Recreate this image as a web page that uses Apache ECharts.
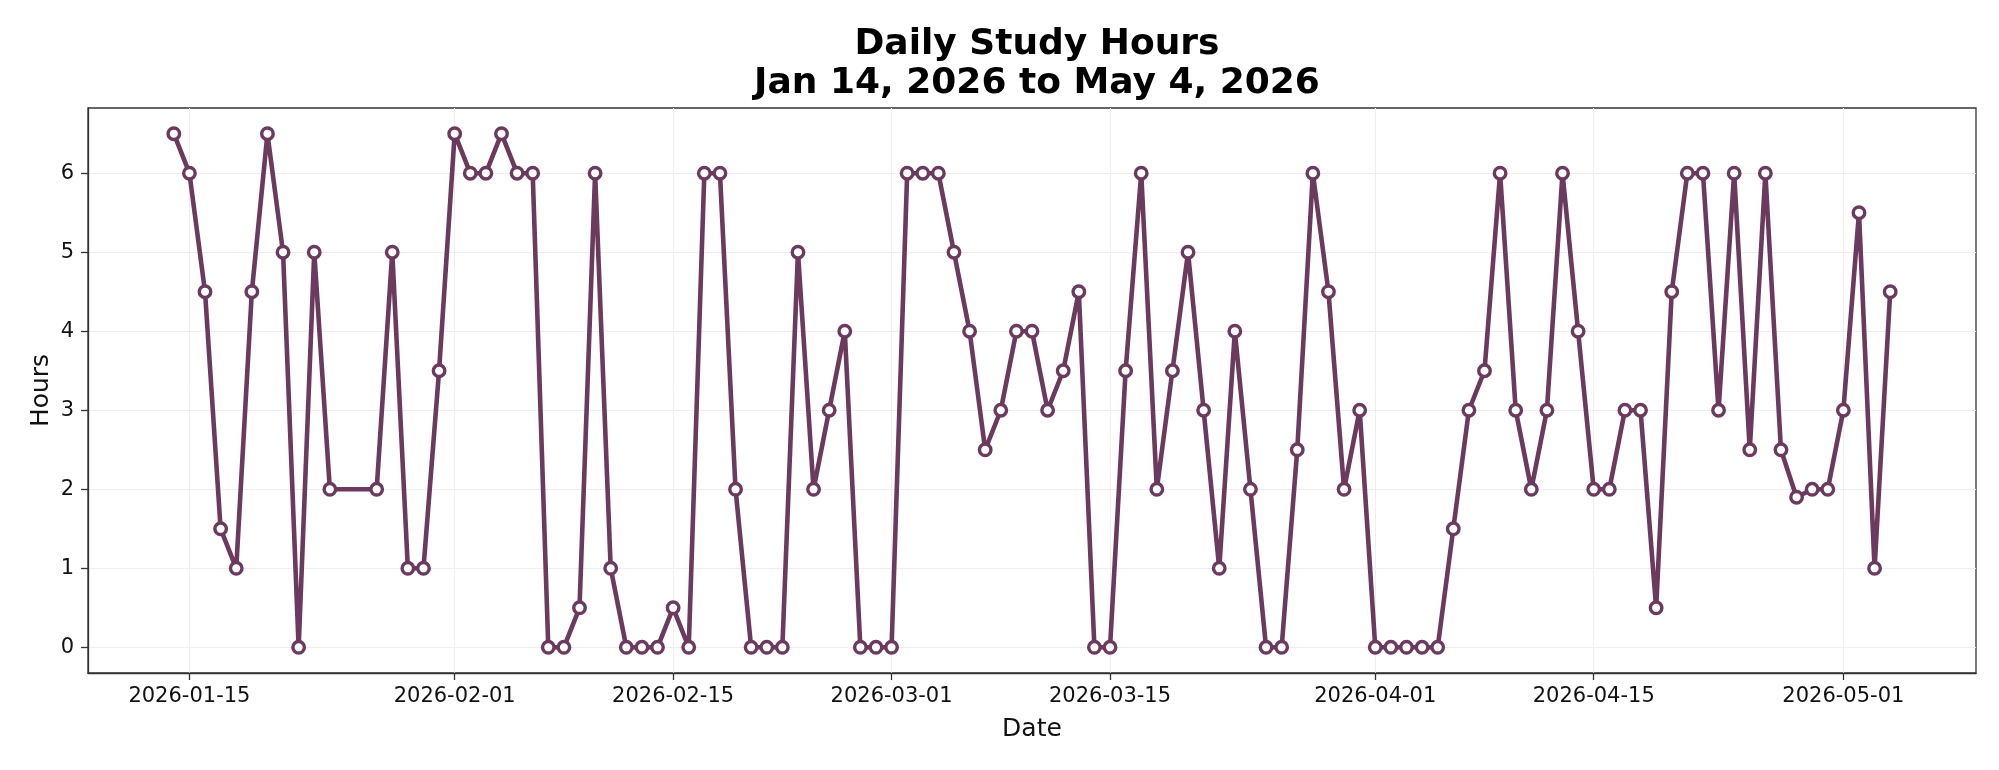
<!DOCTYPE html>
<html lang="en">
<head>
    <meta charset="UTF-8">
    <title>Daily Study Hours</title>
    <script type="text/javascript" src="https://cdn.jsdelivr.net/npm/echarts@6/dist/echarts.min.js"></script>
    <style>
        html, body { margin: 0; padding: 0; background: #fff; }
        #main { width: 1999px; height: 770px; }
    </style>
</head>
<body>

<div id="main"></div>

<script type="text/javascript">
    // dates with a reading (Jan 25 and Jan 26 have none)
    var dates = [
        "2026-01-14","2026-01-15","2026-01-16","2026-01-17","2026-01-18","2026-01-19","2026-01-20",
        "2026-01-21","2026-01-22","2026-01-23","2026-01-24","2026-01-27","2026-01-28","2026-01-29",
        "2026-01-30","2026-01-31","2026-02-01","2026-02-02","2026-02-03","2026-02-04","2026-02-05",
        "2026-02-06","2026-02-07","2026-02-08","2026-02-09","2026-02-10","2026-02-11","2026-02-12",
        "2026-02-13","2026-02-14","2026-02-15","2026-02-16","2026-02-17","2026-02-18","2026-02-19",
        "2026-02-20","2026-02-21","2026-02-22","2026-02-23","2026-02-24","2026-02-25","2026-02-26",
        "2026-02-27","2026-02-28","2026-03-01","2026-03-02","2026-03-03","2026-03-04","2026-03-05",
        "2026-03-06","2026-03-07","2026-03-08","2026-03-09","2026-03-10","2026-03-11","2026-03-12",
        "2026-03-13","2026-03-14","2026-03-15","2026-03-16","2026-03-17","2026-03-18","2026-03-19",
        "2026-03-20","2026-03-21","2026-03-22","2026-03-23","2026-03-24","2026-03-25","2026-03-26",
        "2026-03-27","2026-03-28","2026-03-29","2026-03-30","2026-03-31","2026-04-01","2026-04-02",
        "2026-04-03","2026-04-04","2026-04-05","2026-04-06","2026-04-07","2026-04-08","2026-04-09",
        "2026-04-10","2026-04-11","2026-04-12","2026-04-13","2026-04-14","2026-04-15","2026-04-16",
        "2026-04-17","2026-04-18","2026-04-19","2026-04-20","2026-04-21","2026-04-22","2026-04-23",
        "2026-04-24","2026-04-25","2026-04-26","2026-04-27","2026-04-28","2026-04-29","2026-04-30",
        "2026-05-01","2026-05-02","2026-05-03","2026-05-04"
    ];
    var hours = [
        6.5, 6, 4.5, 1.5, 1, 4.5, 6.5,
        5, 0, 5, 2, 2, 5, 1,
        1, 3.5, 6.5, 6, 6, 6.5, 6,
        6, 0, 0, 0.5, 6, 1, 0,
        0, 0, 0.5, 0, 6, 6, 2,
        0, 0, 0, 5, 2, 3, 4,
        0, 0, 0, 6, 6, 6, 5,
        4, 2.5, 3, 4, 4, 3, 3.5,
        4.5, 0, 0, 3.5, 6, 2, 3.5,
        5, 3, 1, 4, 2, 0, 0,
        2.5, 6, 4.5, 2, 3, 0, 0,
        0, 0, 0, 1.5, 3, 3.5, 6,
        3, 2, 3, 6, 4, 2, 2,
        3, 3, 0.5, 4.5, 6, 6, 3,
        6, 2.5, 6, 2.5, 1.9, 2, 2,
        3, 5.5, 1, 4.5
    ];
    var xTicks = ["2026-01-15","2026-02-01","2026-02-15","2026-03-01","2026-03-15","2026-04-01","2026-04-15","2026-05-01"];
    var yTicks = [0, 1, 2, 3, 4, 5, 6];

    function toTime(s) {
        var p = s.split("-");
        return new Date(+p[0], +p[1] - 1, +p[2]).getTime();
    }
    function pad(n) { return n < 10 ? "0" + n : "" + n; }

    var DAY = 1000 * 60 * 60 * 24;
    var xMin = toTime(dates[0]) - 5.5 * DAY;
    var xMax = toTime(dates[dates.length - 1]) + 5.5 * DAY;

    var seriesData = [];
    for (var i = 0; i < dates.length; i++) {
        seriesData.push([toTime(dates[i]), hours[i]]);
    }

    var lineColor = "#6b3a5e";
    var font = "DejaVu Sans";

    var option = {
        animation: false,
        backgroundColor: "#fff",
        title: {
            text: "Daily Study Hours\nJan 14, 2026 to May 4, 2026",
            left: 1032,
            textAlign: "center",
            top: 20,
            textStyle: {
                fontFamily: font,
                fontWeight: "bold",
                fontSize: 36,
                lineHeight: 39,
                color: "#000"
            }
        },
        grid: {
            left: 88,
            right: 23,
            top: 108,
            bottom: 97,
            show: true,
            borderColor: "#333",
            borderWidth: 1.3,
            backgroundColor: "transparent"
        },
        xAxis: {
            type: "value",
            min: xMin,
            max: xMax,
            name: "Date",
            nameLocation: "middle",
            nameGap: 44,
            nameMoveOverlap: false,
            nameTextStyle: { fontFamily: font, fontSize: 25, color: "#111" },
            axisLine: { show: true, onZero: false, lineStyle: { color: "#333", width: 1.3 } },
            axisTick: {
                show: true,
                length: 7,
                lineStyle: { color: "#333", width: 1.3 },
                customValues: xTicks.map(toTime)
            },
            axisLabel: {
                fontFamily: font,
                fontSize: 21,
                color: "#111",
                margin: 13,
                customValues: xTicks.map(toTime),
                formatter: function (v) {
                    var d = new Date(v);
                    return d.getFullYear() + "-" + pad(d.getMonth() + 1) + "-" + pad(d.getDate());
                }
            },
            splitLine: { show: true, lineStyle: { color: "#eeeeee", width: 1 } }
        },
        yAxis: {
            type: "value",
            min: -0.325,
            max: 6.825,
            name: "Hours",
            nameLocation: "middle",
            nameGap: 34,
            nameMoveOverlap: false,
            nameTextStyle: { fontFamily: font, fontSize: 25, color: "#111" },
            axisLine: { show: true, lineStyle: { color: "#333", width: 1.3 } },
            axisTick: {
                show: true,
                length: 7,
                lineStyle: { color: "#333", width: 1.3 },
                customValues: yTicks
            },
            axisLabel: {
                fontFamily: font,
                fontSize: 21,
                color: "#111",
                margin: 14,
                customValues: yTicks
            },
            splitLine: { show: true, lineStyle: { color: "#eeeeee", width: 1 } }
        },
        series: [{
            name: "Hours",
            type: "line",
            data: seriesData,
            showAllSymbol: true,
            symbol: "circle",
            symbolSize: 11.5,
            lineStyle: { color: lineColor, width: 4.6 },
            itemStyle: { color: "#fff", borderColor: lineColor, borderWidth: 3.4 }
        }]
    };

    var myChart = echarts.init(document.getElementById("main"));
    myChart.setOption(option);
</script>
</body>
</html>
